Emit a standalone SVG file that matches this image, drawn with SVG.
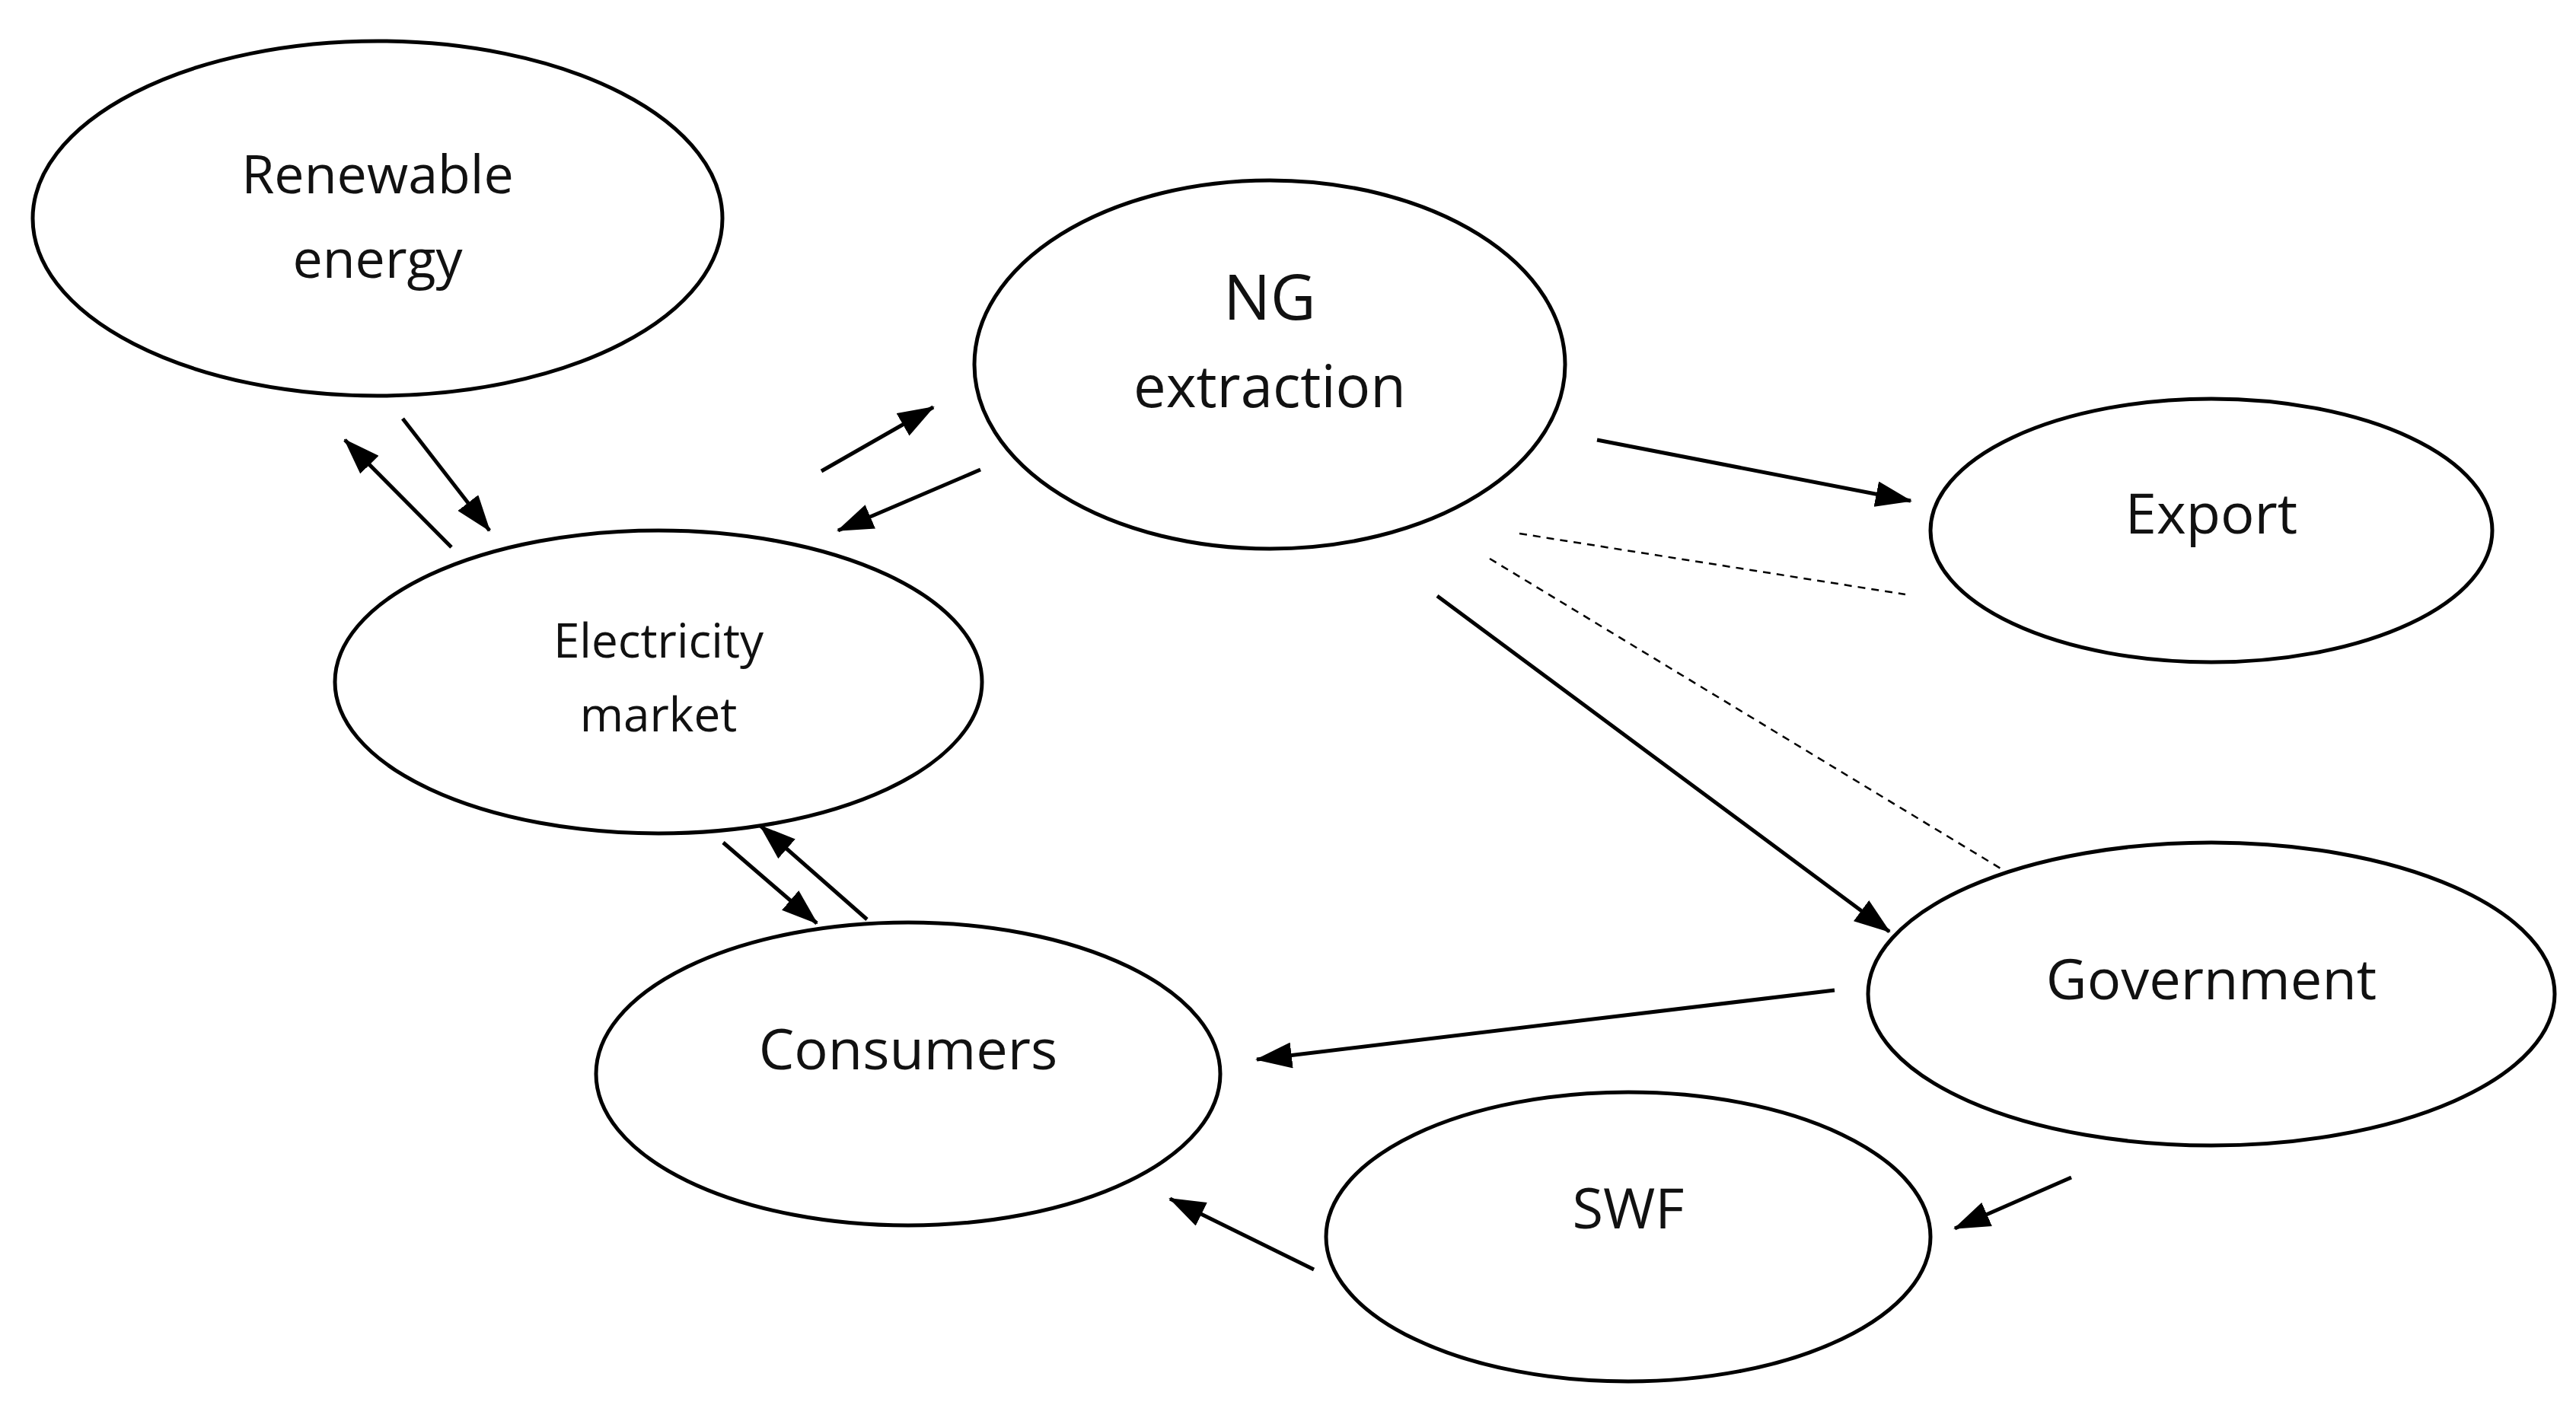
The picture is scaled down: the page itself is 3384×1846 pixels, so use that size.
<svg xmlns="http://www.w3.org/2000/svg" width="3384" height="1846" viewBox="0 0 3384 1846">
<style>
.n{fill:#fff;stroke:#000;stroke-width:5}
text{font-family:"Open Sans","Liberation Sans",sans-serif;fill:#111;text-anchor:middle;dominant-baseline:central}
.c line{stroke:#000;stroke-width:5}
.c line.a{marker-end:url(#ah)}
.c line.d{stroke-width:2.5;stroke-dasharray:10 8}
</style>
<defs><marker id="ah" markerUnits="userSpaceOnUse" markerWidth="48" markerHeight="34" refX="46" refY="17" orient="auto"><path d="M0,0 L48,17 L0,34 Z" fill="#000"/></marker></defs>
<rect width="3384" height="1846" fill="#fff"/>
<g id="renewable"><ellipse class="n" cx="496" cy="287" rx="453" ry="233"/><text x="496" y="227" font-size="70">Renewable</text><text x="496" y="338" font-size="70">energy</text></g>
<g id="ng"><ellipse class="n" cx="1668" cy="479" rx="388" ry="242"/><text x="1668" y="388" font-size="82">NG</text><text x="1668" y="505" font-size="76">extraction</text></g>
<g id="export"><ellipse class="n" cx="2905" cy="697" rx="369" ry="173"/><text x="2905" y="672" font-size="74">Export</text></g>
<g id="electricity"><ellipse class="n" cx="865" cy="896" rx="425" ry="199"/><text x="865" y="840" font-size="62">Electricity</text><text x="865" y="937" font-size="62">market</text></g>
<g id="consumers"><ellipse class="n" cx="1193" cy="1411" rx="410" ry="199"/><text x="1193" y="1376" font-size="74">Consumers</text></g>
<g id="government"><ellipse class="n" cx="2905" cy="1306" rx="451" ry="199"/><text x="2905" y="1284" font-size="74">Government</text></g>
<g id="swf"><ellipse class="n" cx="2139" cy="1625" rx="397" ry="190"/><text x="2139" y="1585" font-size="74">SWF</text></g>
<g class="c" id="connectors">
<line class="a" x1="529" y1="550" x2="643" y2="697"/>
<line class="a" x1="593" y1="719" x2="453" y2="578"/>
<line class="a" x1="1079" y1="619" x2="1226" y2="535"/>
<line class="a" x1="1288" y1="617" x2="1101" y2="697"/>
<line class="a" x1="2098" y1="578" x2="2510" y2="658"/>
<line class="d" x1="1996" y1="701" x2="2503" y2="781"/>
<line class="d" x1="1957" y1="734" x2="2633" y2="1144"/>
<line class="a" x1="1888" y1="783" x2="2482" y2="1224"/>
<line class="a" x1="2410" y1="1301" x2="1651" y2="1392"/>
<line class="a" x1="2721" y1="1547" x2="2568" y2="1614"/>
<line class="a" x1="1726" y1="1668" x2="1537" y2="1575"/>
<line class="a" x1="950" y1="1107" x2="1073" y2="1213"/>
<line class="a" x1="1139" y1="1208" x2="999" y2="1085"/>
</g>
</svg>
